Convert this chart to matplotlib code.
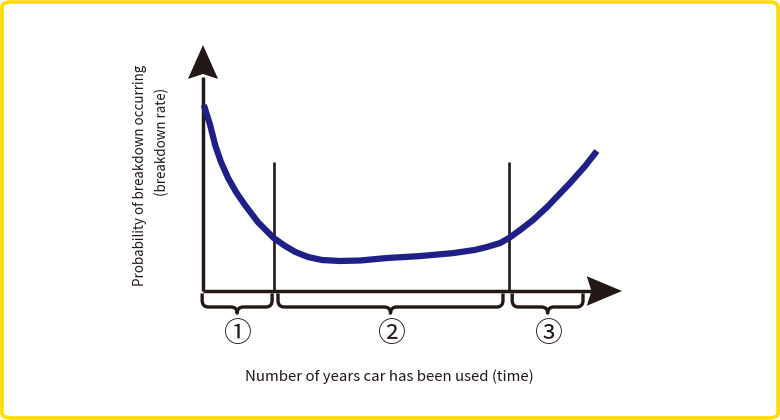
import matplotlib
matplotlib.use("Agg")
import matplotlib.pyplot as plt
from matplotlib.patches import FancyBboxPatch, PathPatch, Polygon
from matplotlib.path import Path

plt.rcParams['font.family'] = ['Noto Sans CJK JP', 'DejaVu Sans']

# Bathtub curve (time units 0..10, rate units 0..10)
curve_x = [0.02, 0.17, 0.29, 0.43, 0.60, 0.79, 1.00, 1.31, 1.69, 1.96, 2.20, 2.51, 2.84,
           3.27, 3.75, 4.39, 5.18, 5.97, 6.49, 6.78, 7.09, 7.30, 7.57, 7.88, 8.21, 8.76,
           9.12, 9.40]
curve_y = [7.56, 6.75, 5.93, 5.24, 4.59, 4.02, 3.50, 2.80, 2.15, 1.83, 1.59, 1.38, 1.26,
           1.22, 1.24, 1.34, 1.42, 1.54, 1.67, 1.79, 1.95, 2.15, 2.48, 2.89, 3.41, 4.39,
           5.08, 5.69]

phase_bounds = [1.70, 7.30]          # vertical separators
line_top = 5.24
braces = [(-0.02, 1.65), (1.79, 7.16), (7.38, 9.07)]
phase_labels = ['①', '②', '③']
xlabel = 'Number of years car has been used (time)'
ylabel_lines = ['Probability of breakdown occurring', '(breakdown rate)']

W, H = 780, 420
fig = plt.figure(figsize=(W / 100, H / 100), dpi=100)
fig.patch.set_facecolor('white')

# yellow rounded frame
frame = FancyBboxPatch((2 / W, 2 / H), 1 - 4 / W, 1 - 4 / H,
                       boxstyle="round,pad=0,rounding_size=0.012",
                       transform=fig.transFigure, facecolor='none',
                       edgecolor='#FFDC00', linewidth=2.6, zorder=10)
fig.patches.append(frame)

x0p, y0p = 203, 291
ax = fig.add_axes([x0p / W, (H - y0p) / H, 419 / W, 246 / H])
ax.set_xlim(0, 10)
ax.set_ylim(0, 10)
ax.axis('off')

ink = '#231815'
# axes with arrows
ax.plot([0, 0], [0, 8.7], color=ink, lw=2.5, solid_capstyle='butt', clip_on=False)
ax.plot([0, 9.3], [0, 0], color=ink, lw=2.5, solid_capstyle='butt', clip_on=False)
# arrowheads with slightly concave base
ax.add_patch(Polygon([(0, 10.0), (0.36, 8.62), (0, 8.82), (-0.36, 8.62)], closed=True,
                     facecolor=ink, edgecolor='none', clip_on=False))
ax.add_patch(Polygon([(10.0, 0), (9.16, 0.6), (9.27, 0), (9.16, -0.6)], closed=True,
                     facecolor=ink, edgecolor='none', clip_on=False))

# phase separators
for b in phase_bounds:
    ax.plot([b, b], [0, line_top], color=ink, lw=1.9, solid_capstyle='butt', clip_on=False)

# curve
ax.plot(curve_x, curve_y, color='#1E2087', lw=4.5, solid_capstyle='butt',
        solid_joinstyle='round', clip_on=False, zorder=3)

# braces
def brace(a, b, top=-0.1, mid=-0.65, tip=-0.9, r=0.15, rv=0.27):
    c = (a + b) / 2
    verts = [(a, top), (a, mid + rv), (a, mid), (a + r, mid), (c - r, mid), (c, mid), (c, tip),
             (c, mid), (c + r, mid), (b - r, mid), (b, mid), (b, mid + rv), (b, top)]
    codes = [Path.MOVETO, Path.LINETO, Path.CURVE3, Path.CURVE3, Path.LINETO, Path.CURVE3,
             Path.CURVE3, Path.CURVE3, Path.CURVE3, Path.LINETO, Path.CURVE3, Path.CURVE3,
             Path.LINETO]
    ax.add_patch(PathPatch(Path(verts, codes), facecolor='none', edgecolor=ink, lw=2.4,
                           capstyle='butt', joinstyle='round', clip_on=False))

for (a, b), lab in zip(braces, phase_labels):
    brace(a, b)
    ax.text((a + b) / 2, -1.75, lab, ha='center', va='center', fontsize=20, color=ink)

ax.text(4.46, -3.5, xlabel, ha='center', va='center', fontsize=10.8, color=ink)
ax.text(-1.50, 4.70, ylabel_lines[0], ha='center', va='center', rotation=90,
        fontsize=9.6, color=ink)
ax.text(-0.98, 6.04, ylabel_lines[1], ha='center', va='center', rotation=90,
        fontsize=9.6, color=ink)

fig.savefig('out.png', dpi=100, facecolor='white')
